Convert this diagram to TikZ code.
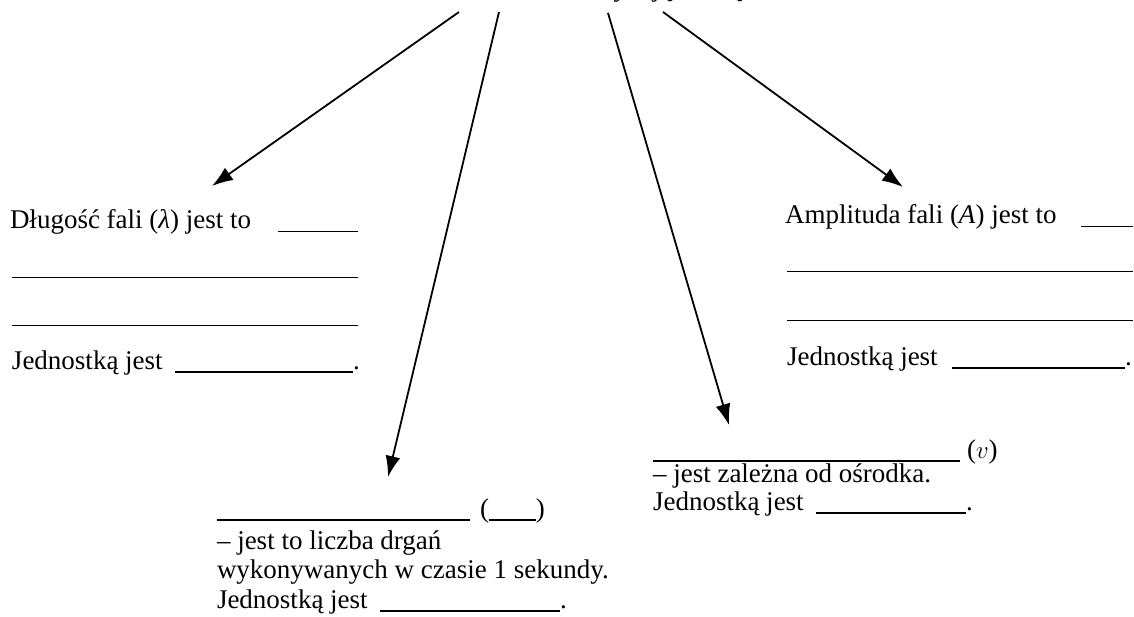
\documentclass[tikz,border=0pt]{standalone}
\usepackage{fontspec}
\setmainfont{Liberation Serif}
\usetikzlibrary{arrows.meta}
\newcommand\blank[1]{\rule[-3.5pt]{#1pt}{1.3pt}}
\tikzset{
  txt/.style={anchor=base west, inner sep=0pt, outer sep=0pt, font=\fontsize{27}{30}\selectfont},
  conn/.style={line width=1.8pt, -{Latex[length=21pt,width=15pt]}}
}
\begin{document}
\begin{tikzpicture}[x=1pt,y=-1pt]
\useasboundingbox (0,0) rectangle (1134,617);
% title (mostly cut off at the top edge, as in the reference)
\node[txt] (title) at (398,-3) {Wielkości charakteryzujące falę};
% left block
\node[txt] (l1) at (10,229) {\makebox[268pt][l]{Długość fali (\textit{λ}) jest to}\blank{80}};
\node[txt] (l2) at (12,275) {\blank{346}};
\node[txt] (l3) at (12,323) {\blank{346}};
\node[txt] (l4) at (12,369) {\makebox[163pt][l]{Jednostką jest}\blank{178}.};
% right block
\node[txt] (r1) at (785,224) {\makebox[296pt][l]{Amplituda fali (\textit{A}) jest to}\blank{52}};
\node[txt] (r2) at (787,269) {\blank{346}};
\node[txt] (r3) at (787,318) {\blank{346}};
\node[txt] (r4) at (787,365) {\makebox[165pt][l]{Jednostką jest}\blank{173}.};
% bottom center block
\node[txt] (c1) at (217,517) {\makebox[263pt][l]{\blank{253}}(\blank{47})};
\node[txt] (c2) at (217,549) {– jest to liczba drgań};
\node[txt] (c3) at (217,578) {wykonywanych w czasie 1 sekundy.};
\node[txt] (c4) at (217,608) {\makebox[163pt][l]{Jednostką jest}\blank{180}.};
% bottom right block
\node[txt] (b1) at (653,458) {\makebox[314pt][l]{\blank{307}}($v$)};
\node[txt] (b2) at (653,482) {– jest zależna od ośrodka.};
\node[txt] (b3) at (653,510) {\makebox[163pt][l]{Jednostką jest}\blank{150}.};
% connectors
\coordinate (s1) at (459,12); \coordinate (e1) at (212,186);
\coordinate (s2) at (499,12); \coordinate (e2) at (388,477);
\coordinate (s3) at (608,13); \coordinate (e3) at (729,425);
\coordinate (s4) at (663,12); \coordinate (e4) at (903,187);
\draw[conn] (s1) -- (e1);
\draw[conn] (s2) -- (e2);
\draw[conn] (s3) -- (e3);
\draw[conn] (s4) -- (e4);
\end{tikzpicture}
\end{document}
